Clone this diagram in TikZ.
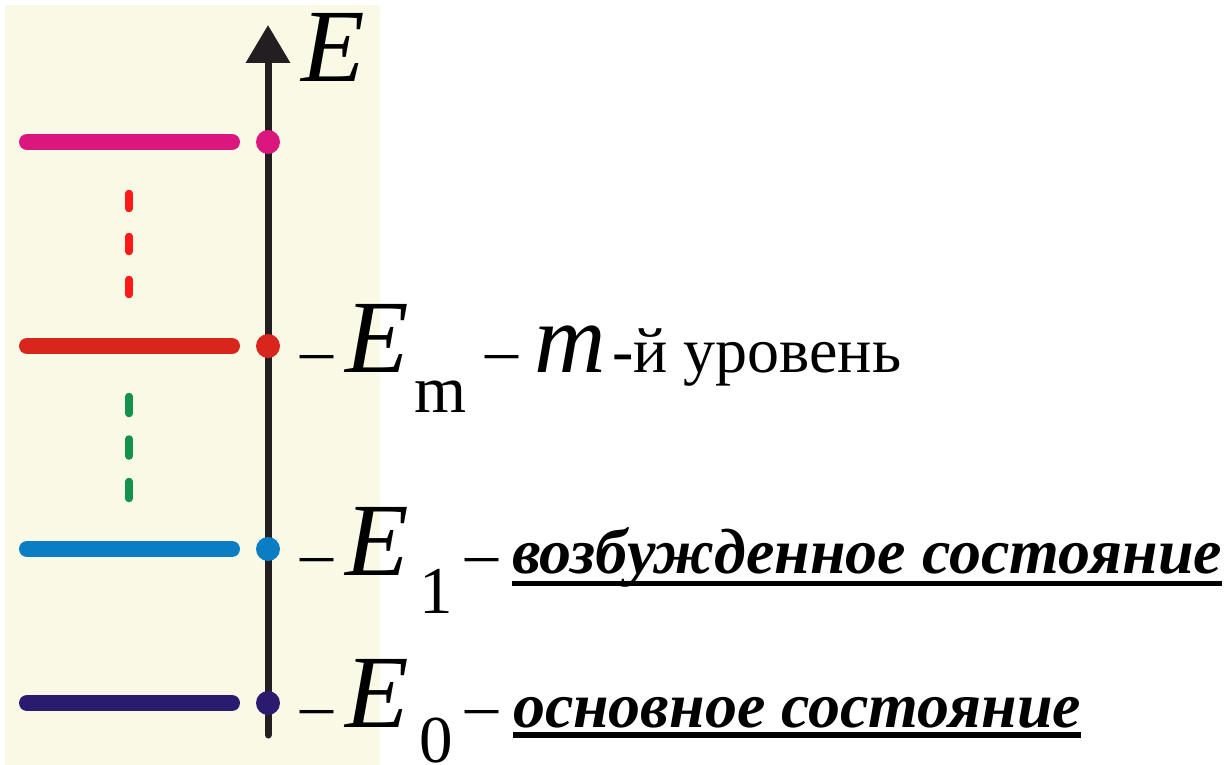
\documentclass[tikz,border=0pt]{standalone}
\usepackage{fontspec}
\setmainfont{Liberation Serif}
\usetikzlibrary{arrows.meta}
\definecolor{paper}{HTML}{F9F9E6}
\definecolor{ink}{HTML}{231F20}
\definecolor{rose}{HTML}{DB177F}
\definecolor{brick}{HTML}{D9261C}
\definecolor{sky}{HTML}{0B7DC4}
\definecolor{navy}{HTML}{2B1B6E}
\definecolor{dashred}{HTML}{FF1A1A}
\definecolor{leaf}{HTML}{12924A}

\begin{document}
\begin{tikzpicture}[x=1pt,y=-1pt,text=black,
  level/.style={line width=16pt,line cap=round},
  gapline/.style={line width=7.5pt,line cap=round},
  lbl/.style={anchor=base west,inner sep=0pt,outer sep=0pt},
  sym/.style={lbl,font=\fontsize{104}{110}\selectfont\itshape},
  sub/.style={lbl,font=\fontsize{67}{70}\selectfont},
  sep/.style={lbl,font=\fontsize{66}{70}\selectfont},
  word/.style={lbl,font=\fontsize{64}{70}\selectfont},
  state/.style={lbl,font=\fontsize{64}{70}\selectfont\bfseries\itshape},
  uline/.style={line width=5.5pt}]
  \useasboundingbox (0,0) rectangle (1229,765);
  \fill[paper] (5,5) rectangle (380,765);

  % energy axis
  \coordinate (axbot) at (268,735);
  \coordinate (axtop) at (268,25);
  \draw[ink,line width=7pt,line cap=round,
    -{Triangle[length=38pt,width=43pt]}] (axbot) -- (axtop);
  \node[sym] (axlabel) at (301,82) {E};

  % levels
  \foreach \y/\c in {142/rose,346/brick,549/sky,703/navy}{
    \draw[level,\c] (27,\y) -- (232,\y);
    \fill[\c] (268,\y) circle (12pt);
  }
  \draw[gapline,dashred,dash pattern=on 15pt off 28pt] (129,193.5) -- (129,294.5);
  \draw[gapline,leaf,dash pattern=on 17pt off 25.5pt] (129,396.5) -- (129,498.5);

  % m-th level
  \node[sep] (dm1) at (300,372) {–};
  \node[sym] (em) at (345,372) {E};
  \node[sub] (subm) at (414,412) {m};
  \node[sep] (dm2) at (485,372) {–};
  \node[sym,font=\fontsize{99}{100}\selectfont\itshape] (mm) at (534,372) {m};
  \node[word] (mword) at (612,372) {-й уровень};

  % first excited
  \node[sep] (d11) at (300,575) {–};
  \node[sym] (e1) at (345,575) {E};
  \node[sub] (sub1) at (419,613) {1};
  \node[sep] (d12) at (465,575) {–};
  \node[state] (word1) at (512,573) {возбужденное состояние};
  \draw[uline] ([yshift=-10.5pt]word1.base west) -- ([yshift=-10.5pt]word1.base east);

  % ground
  \node[sep] (d01) at (300,727) {–};
  \node[sym] (e0) at (345,727) {E};
  \node[sub] (sub0) at (419,762) {0};
  \node[sep] (d02) at (465,727) {–};
  \node[state] (word0) at (513,727) {основное состояние};
  \draw[uline] ([yshift=-8pt]word0.base west) -- ([yshift=-8pt]word0.base east);
\end{tikzpicture}
\end{document}
